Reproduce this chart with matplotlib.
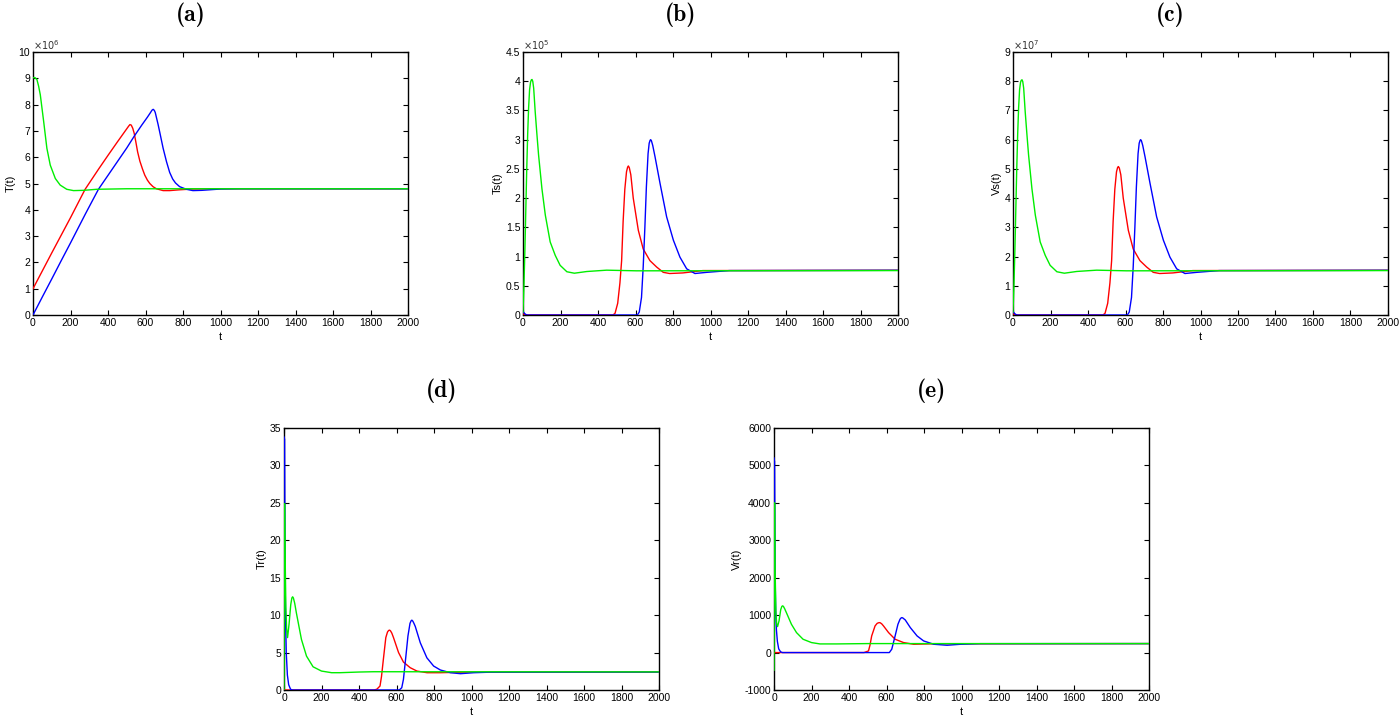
import numpy as np
import matplotlib
matplotlib.use("Agg")
import matplotlib.pyplot as plt
from matplotlib.ticker import FuncFormatter

plt.rcParams.update({
    'font.family': 'Liberation Sans',
    'font.size': 7.5,
    'axes.linewidth': 1.0,
    'xtick.direction': 'in',
    'ytick.direction': 'in',
    'xtick.top': True,
    'ytick.right': True,
    'xtick.major.size': 3.5,
    'ytick.major.size': 3.5,
})

RED, BLUE, GREEN = '#ff0000', '#0000ff', '#00ee00'

# ---- (a) T(t), in units of 1e6 ----
ta_red = [0, 50, 100, 150, 200, 278, 350, 400, 450, 490, 500, 510, 517, 524, 532, 540, 548, 558,
          570, 584, 596, 610, 623, 640, 658, 694, 729, 780, 850, 1000, 2000]
Ta_red = [1.0, 1.68, 2.36, 3.03, 3.7, 4.78, 5.55, 6.07, 6.58, 6.98, 7.08, 7.18, 7.24, 7.22, 7.1,
          6.9, 6.6, 6.2, 5.85, 5.55, 5.32, 5.13, 5.0, 4.88, 4.8, 4.73, 4.73, 4.76, 4.79, 4.8, 4.8]
ta_blue = [0, 50, 100, 150, 200, 280, 349, 400, 450, 500, 540, 580, 610, 625, 635, 641, 647, 652,
           658, 667, 676, 694, 712, 729, 745, 760, 782, 818, 853, 900, 1000, 1100, 2000]
Ta_blue = [0.0, 0.69, 1.37, 2.06, 2.74, 3.85, 4.78, 5.31, 5.83, 6.35, 6.8, 7.22, 7.52, 7.68, 7.79,
           7.82, 7.78, 7.7, 7.52, 7.25, 6.95, 6.34, 5.83, 5.42, 5.17, 5.02, 4.88, 4.78, 4.73, 4.74,
           4.79, 4.8, 4.8]
ta_green = [0, 10, 21, 30, 39, 57, 74, 92, 119, 145, 180, 216, 269, 340, 500, 2000]
Ta_green = [9.02, 9.03, 8.95, 8.7, 8.37, 7.35, 6.34, 5.7, 5.19, 4.94, 4.78, 4.73, 4.74, 4.78, 4.8, 4.8]

# ---- (b) Ts(t), in units of 1e5 ----
tb_red = [0, 20, 480, 491, 505, 517, 526, 534, 543, 552, 558, 562, 567, 575, 588, 615, 641, 677,
          713, 748, 782, 853, 959, 2000]
Tsb_red = [0.02, 0, 0, 0.03, 0.2, 0.55, 0.93, 1.6, 2.15, 2.45, 2.53, 2.55, 2.52, 2.4, 2.0, 1.45,
           1.13, 0.93, 0.82, 0.73, 0.71, 0.72, 0.76, 0.765]
tb_blue = [0, 10, 20, 610, 620, 632, 641, 650, 658, 667, 673, 678, 681, 685, 692, 704, 731, 766,
           802, 837, 873, 917, 980, 1100, 2000]
Tsb_blue = [0.06, 0.02, 0, 0, 0.05, 0.3, 0.82, 1.5, 2.19, 2.76, 2.94, 2.99, 3.0, 2.98, 2.9, 2.71,
            2.25, 1.68, 1.28, 0.99, 0.79, 0.71, 0.73, 0.76, 0.765]
tb_green = [0, 5, 10, 15, 20, 25, 30, 35, 40, 44, 48, 52, 57, 65, 74, 83, 101, 119, 145, 172, 198,
            234, 274, 340, 446, 605, 2000]
Tsb_green = [0.05, 0.5, 1.1, 1.8, 2.5, 3.1, 3.55, 3.85, 3.98, 4.02, 4.03, 4.0, 3.88, 3.48, 3.1,
             2.74, 2.16, 1.71, 1.25, 1.02, 0.85, 0.74, 0.715, 0.744, 0.767, 0.756, 0.76]

# ---- (c) Vs(t), in units of 1e7 ----
tc_red = [0, 20, 480, 491, 505, 517, 526, 534, 543, 552, 558, 562, 567, 575, 588, 615, 641, 677,
          713, 748, 782, 853, 959, 2000]
Vsc_red = [0.04, 0, 0, 0.06, 0.4, 1.1, 1.86, 3.2, 4.3, 4.9, 5.05, 5.08, 5.03, 4.8, 4.0, 2.9, 2.26,
           1.86, 1.64, 1.46, 1.42, 1.44, 1.52, 1.53]
tc_blue = [0, 10, 20, 610, 620, 632, 641, 650, 658, 667, 673, 678, 681, 685, 692, 704, 731, 766,
           802, 837, 873, 917, 980, 1100, 2000]
Vsc_blue = [0.12, 0.04, 0, 0, 0.1, 0.6, 1.64, 3.0, 4.38, 5.52, 5.88, 5.98, 6.0, 5.96, 5.8, 5.42,
            4.5, 3.36, 2.56, 1.98, 1.58, 1.42, 1.46, 1.52, 1.53]
tc_green = [0, 5, 10, 15, 20, 25, 30, 35, 40, 44, 48, 52, 57, 65, 74, 83, 101, 119, 145, 172, 198,
            234, 274, 340, 446, 605, 2000]
Vsc_green = [0.1, 1.0, 2.2, 3.6, 5.0, 6.2, 7.1, 7.7, 7.96, 8.03, 8.05, 7.99, 7.76, 6.96, 6.2, 5.48,
             4.32, 3.42, 2.5, 2.04, 1.7, 1.48, 1.43, 1.49, 1.534, 1.512, 1.52]

# ---- (d) Tr(t) ----
td_red = [0, 480, 495, 512, 520, 530, 543, 552, 558, 563, 568, 575, 584, 611, 637, 673, 709, 763,
          834, 950, 2000]
Trd_red = [0, 0, 0.1, 0.53, 1.8, 4.1, 7.0, 7.75, 7.95, 8.0, 7.9, 7.6, 7.0, 5.0, 3.73, 2.98, 2.53,
           2.31, 2.31, 2.38, 2.4]
td_blue = [0, 3, 6, 8, 12, 18, 25, 35, 45, 615, 628, 637, 650, 661, 672, 678, 682, 687, 693, 700,
           727, 762, 798, 834, 888, 941, 1012, 1100, 2000]
Trd_blue = [33.8, 33.5, 15, 10, 5, 2, 0.7, 0.1, 0, 0, 0.3, 1.42, 4.5, 7.2, 8.9, 9.25, 9.33, 9.2,
            8.9, 8.5, 6.3, 4.3, 3.2, 2.67, 2.31, 2.18, 2.31, 2.38, 2.4]
td_green = [0, 3, 6, 10, 14, 19, 27, 36, 42, 46, 50, 57, 66, 93, 120, 155, 200, 254, 298, 400,
            477, 2000]
Trd_green = [0, 24.9, 18, 11, 8.2, 7.0, 8.8, 11.4, 12.3, 12.45, 12.3, 11.6, 10.3, 6.76, 4.53, 3.1,
             2.53, 2.31, 2.31, 2.4, 2.44, 2.42]

# ---- (e) Vr(t) ----
te_red = [0, 480, 504, 512, 521, 539, 550, 557, 562, 567, 575, 584, 611, 646, 691, 745, 850, 2000]
Vre_red = [0, 0, 44, 200, 445, 712, 780, 795, 800, 795, 765, 712, 534, 356, 267, 222, 235, 240]
te_blue = [0, 3, 6, 9, 13, 18, 25, 35, 45, 615, 628, 646, 661, 672, 678, 682, 687, 693, 700, 727,
           763, 798, 852, 923, 995, 1100, 2000]
Vre_blue = [5200, 5100, 2000, 1100, 600, 300, 100, 20, 0, 0, 89, 445, 756, 890, 925, 934, 925,
            900, 872, 667, 445, 311, 222, 196, 222, 238, 240]
te_green = [0, 3, 6, 10, 14, 19, 27, 36, 42, 46, 50, 57, 66, 93, 120, 155, 200, 245, 334, 500, 2000]
Vre_green = [-470, 4000, 2200, 1100, 780, 694, 850, 1150, 1235, 1248, 1235, 1170, 1068, 756, 534,
             356, 267, 231, 231, 240, 240]

panels = [
    ('(a)', 'T(t)', 6, (0, 10), np.arange(0, 11, 1),
     (ta_red, Ta_red), (ta_blue, Ta_blue), (ta_green, Ta_green)),
    ('(b)', 'Ts(t)', 5, (0, 4.5), np.arange(0, 4.6, 0.5),
     (tb_red, Tsb_red), (tb_blue, Tsb_blue), (tb_green, Tsb_green)),
    ('(c)', 'Vs(t)', 7, (0, 9), np.arange(0, 10, 1),
     (tc_red, Vsc_red), (tc_blue, Vsc_blue), (tc_green, Vsc_green)),
    ('(d)', 'Tr(t)', 0, (0, 35), np.arange(0, 36, 5),
     (td_red, Trd_red), (td_blue, Trd_blue), (td_green, Trd_green)),
    ('(e)', 'Vr(t)', 0, (-1000, 6000), np.arange(-1000, 6001, 1000),
     (te_red, Vre_red), (te_blue, Vre_blue), (te_green, Vre_green)),
]

# axes boxes in pixels: left, top, right, bottom
W, H = 1400, 720
boxes = [(33, 52, 408, 315), (523, 52, 898, 315), (1013, 52, 1388, 315),
         (284, 428, 659, 690), (774, 428, 1149, 690)]

fig = plt.figure(figsize=(14, 7.2), dpi=100)

for (label, ylab, expo, ylim, yticks, red, blue, green), (l, t, r, b) in zip(panels, boxes):
    ax = fig.add_axes([l / W, 1 - b / H, (r - l) / W, (b - t) / H])
    scale = 10.0 ** expo
    for (tt, vv), c in zip((red, blue, green), (RED, BLUE, GREEN)):
        ax.plot(tt, np.array(vv) * scale, color=c, lw=1.0, zorder=3)
    ax.set_xlim(0, 2000)
    ax.set_xticks(np.arange(0, 2001, 200))
    ax.set_ylim(ylim[0] * scale, ylim[1] * scale)
    ax.set_yticks(yticks * scale)
    ax.yaxis.set_major_formatter(FuncFormatter(lambda v, p, s=scale: f"{v / s:g}"))
    ax.set_xlabel('t', fontsize=8, labelpad=3)
    ax.set_ylabel(ylab, fontsize=8, labelpad=2)
    ax.tick_params(labelsize=7.5, pad=2, width=0.8)
    if expo:
        ax.text(0.0, 1.0, r'$\times10^{%d}$' % expo, transform=ax.transAxes,
                ha='left', va='bottom', fontsize=7, color='#333333')
    # panel title, centred a bit left of the axes centre
    fig.text(((l + r) / 2 - 30) / W, 1 - (t - 37) / H, label, family='cmb10',
             fontsize=17, ha='center', va='center')

fig.savefig('out.png', dpi=100)
